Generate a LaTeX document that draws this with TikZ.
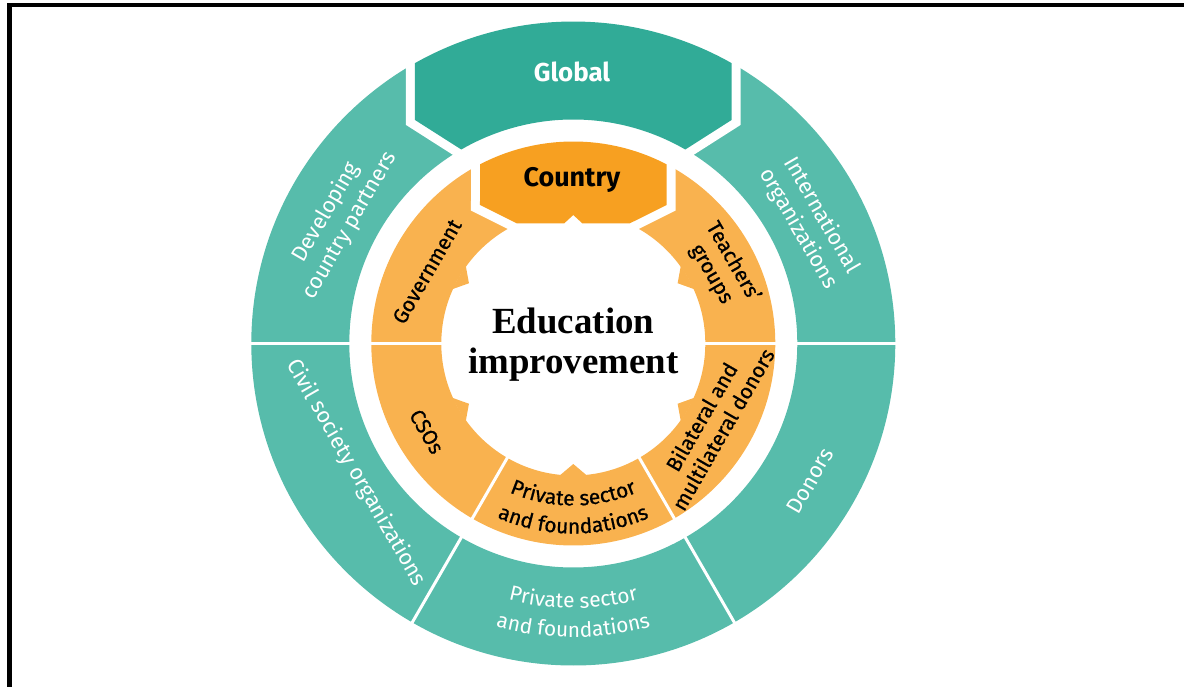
\documentclass[tikz,border=0pt]{standalone}
\usepackage{fontspec}
\setmainfont{Liberation Serif}
\newfontfamily\labelfont{Fira Sans}
\newfontfamily\medfont[FakeBold=0.7]{Fira Sans}
\usetikzlibrary{decorations.text}
\definecolor{tealdark}{HTML}{31AB97}
\definecolor{teallight}{HTML}{57BCAB}
\definecolor{orangedark}{HTML}{F7A021}
\definecolor{orangelight}{HTML}{F9B24F}

\begin{document}
\begin{tikzpicture}[x=1bp,y=1bp,
  outerlabel/.style={text=white, align=center, inner sep=0pt,
    font=\labelfont\fontsize{22}{27}\selectfont},
  innerlabel/.style={text=black, align=center, inner sep=0pt,
    font=\medfont\fontsize{21}{25}\selectfont},
  cut/.style={white, line width=3bp},
  halo/.style={preaction={draw=white, line width=18bp, line join=miter}}]
\useasboundingbox (-573.3,-343.5) rectangle (610.7,343.5);

% frame edges
\fill[black] (-566.3,336.2) rectangle (610.7,340.8);
\fill[black] (-566.3,-343.5) rectangle (-561.3,340.8);

% outer ring of partners
\fill[teallight, even odd rule] (0,0) circle[radius=322] (0,0) circle[radius=224];
\foreach \a in {0,180,240,300} \draw[cut] (\a:218) -- (\a:328);

% global segment with its white surround
\fill[tealdark, halo] (60.55:322) arc[start angle=60.55, end angle=119.45, radius=322]
  -- (-158.3,223.5) -- (120:224) arc[start angle=120, end angle=60, radius=224]
  -- (158.3,223.5) -- cycle;

% inner ring of country actors
\fill[orangelight, even odd rule] (0,0) circle[radius=202] (0,0) circle[radius=132];
\foreach \a in {0,180,240,300} \draw[cut] (\a:126) -- (\a:208);

% teeth of the inner gear
\foreach \a in {30,150,210,330,270}
  \fill[orangelight] (\a-6:133) -- (\a:120.5) -- (\a+6:133) -- cycle;

% country segment with its white surround
\fill[orangedark, halo] (62.5:202) arc[start angle=62.5, end angle=117.5, radius=202]
  -- (-93.3,138.5) -- (-56.6,120.2) -- (-9,120.2) -- (0,128.5) -- (9,120.2)
  -- (56.6,120.2) -- (93.3,138.5) -- cycle;

% headings
\node (global) [text=white, font=\labelfont\bfseries\fontsize{26}{30}\selectfont] at (-1.3,271.5) {Global};
\node (country) [text=black, font=\labelfont\bfseries\fontsize{27}{31}\selectfont] at (-1.3,163.5) {Country};
\node (core) [align=center, font=\bfseries\fontsize{37}{40}\selectfont] at (0,-1.5) {Education\\improvement};

% outer ring labels
\node (dev) [outerlabel, rotate=60] at (-235.3,124.5) {Developing\\country partners};
\node (intl) [outerlabel, rotate=-60] at (236.7,121.5) {International\\organizations};
\node (civil) [outerlabel, rotate=-60] at (-217.3,-129.5) {Civil society organizations};
\node (donors) [outerlabel, rotate=60] at (236.7,-137.5) {Donors};
\path[decorate, decoration={text along path, text align=center, text color=white,
  text={|\labelfont\fontsize{21}{25}\selectfont|Private sector}}]
  (200:264.5) arc[start angle=200, end angle=340, radius=264.5];
\path[decorate, decoration={text along path, text align=center, text color=white,
  text={|\labelfont\fontsize{21}{25}\selectfont|and foundations}}]
  (200:293.5) arc[start angle=200, end angle=340, radius=293.5];

% inner ring labels
\node (gov) [innerlabel, rotate=60] at (-146.3,72) {Government};
\node (teach) [innerlabel, rotate=-60] at (148.7,75.5) {Teachers’\\groups};
\node (cso) [innerlabel, rotate=-60] at (-146.6,-88.2) {CSOs};
\node (bilat) [innerlabel, rotate=60] at (138.7,-79.5) {Bilateral and\\multilateral donors};
\path[decorate, decoration={text along path, text align=center, text color=black,
  text={|\medfont\fontsize{21}{25}\selectfont|Private sector}}]
  (200:162) arc[start angle=200, end angle=340, radius=162];
\path[decorate, decoration={text along path, text align=center, text color=black,
  text={|\medfont\fontsize{21}{25}\selectfont|and foundations}}]
  (200:190) arc[start angle=200, end angle=340, radius=190];
\end{tikzpicture}
\end{document}
